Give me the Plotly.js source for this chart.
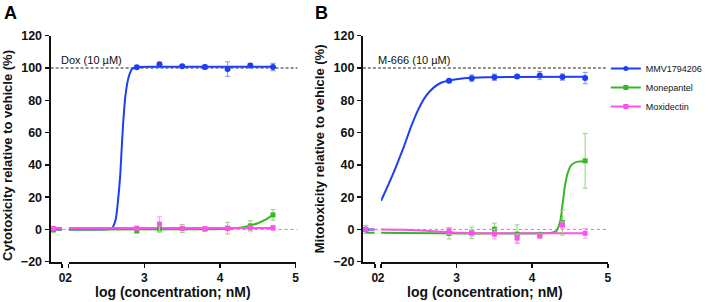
<!DOCTYPE html>
<html><head><meta charset="utf-8">
<script src="https://cdn.plot.ly/plotly-3.0.1.min.js"></script>
<style>html,body{margin:0;padding:0;background:#fff}#chart{width:708px;height:302px}</style>
</head><body><div id="chart"></div>
<script>
// ---------- data ----------
const seriesNames = ['MMV1794206', 'Monepantel', 'Moxidectin'];
const seriesColors = ['#1c3ff5', '#36b824', '#ff4fee'];
const errColors = ['#7d93ff', '#8fd677', '#ff9cf4'];
const seriesSymbols = ['circle', 'square', 'square'];

const vehicleLog = [-1];
const concLog = [2.9, 3.2, 3.5, 3.8, 4.1, 4.4, 4.7];
const xTickSeg1 = [0];
const xTickSeg2 = [2, 3, 4, 5];
const yTicks = [-20, 0, 20, 40, 60, 80, 100, 120];

// Panel A: cytotoxicity
const vehA = [0, 0, 0.5];
const vehAErr = [0.5, 2, 0.5];
const mmvA = [100.5, 102.3, 101.0, 100.6, 99.3, 101.6, 100.6];
const mmvAErr = [0.8, 1.0, 0.8, 1.3, 4.5, 1.2, 2.3];
const monA = [-1.0, 0.3, 0.6, 0.2, 0.8, 2.2, 9.0];
const monAErr = [1.0, 2.0, 2.5, 0.8, 3.6, 3.2, 3.3];
const moxA = [0.8, 3.3, 0.6, 0.4, 0.5, 1.0, 1.0];
const moxAErr = [1.0, 4.5, 1.0, 0.8, 1.0, 1.0, 1.5];
const baseA = [0, 0, 0.8];
const fitA_mmv_x = [2.0, 2.5, 2.57, 2.62, 2.65, 2.68, 2.70, 2.72, 2.75, 2.79, 2.84, 2.9, 3.2, 4.7];
const fitA_mmv_y = [0, 0.1, 0.6, 6, 17, 33, 50, 66, 83, 94, 99.5, 100.5, 100.7, 100.7];
const fitA_mon_x = [2.0, 3.8, 4.1, 4.3, 4.5, 4.6, 4.7];
const fitA_mon_y = [0, 0.1, 0.4, 1.3, 3.8, 6.0, 9.0];
const fitA_mox_x = [2.0, 4.7];
const fitA_mox_y = [0.8, 0.8];

// Panel B: mitotoxicity
const vehB = [0, 0, 0];
const vehBErr = [0.5, 2.5, 0.5];
const mmvB = [92.1, 93.7, 94.2, 94.8, 95.3, 94.4, 93.8];
const mmvBErr = [1.2, 2.0, 2.0, 1.2, 2.5, 2.0, 3.5];
const monB = [-2.5, -2.1, 0.2, -2.9, -3.2, 4.3, 42.5];
const monBErr = [3.4, 3.6, 3.7, 5.7, 1.5, 7.8, 17.0];
const moxB = [-0.9, -2.2, -2.9, -5.4, -4.0, 2.7, -2.4];
const moxBErr = [2.0, 2.0, 3.0, 2.5, 1.5, 2.0, 3.0];
const baseB = [0, -2, 0];
const fitB_mmv_x = [2.0, 2.1, 2.2, 2.3, 2.4, 2.5, 2.6, 2.7, 2.8, 2.9, 3.1, 3.4, 4.7];
const fitB_mmv_y = [17.7, 28, 39, 51, 64, 75, 83, 88, 91, 92.3, 93.7, 94.3, 94.5];
const fitB_mon_x = [2.0, 4.25, 4.32, 4.37, 4.40, 4.43, 4.47, 4.52, 4.6, 4.7];
const fitB_mon_y = [-2, -2, -1, 5, 15, 26, 35, 40, 42, 42.3];
const fitB_mox_x = [2.0, 2.3, 2.6, 2.8, 3.0, 3.3, 4.7];
const fitB_mox_y = [0, -0.2, -0.8, -1.5, -2.0, -2.3, -2.4];

// ---------- build ----------
const FONT = 'Arial, "Liberation Sans", sans-serif';
const W = 708, H = 302;
const px = v => v / W;
const py = v => 1 - v / H;

function buildPanel(xs1, xs2, ya, veh, vehErr, vals, errs, fitsX, fitsY, base) {
  const tr = [];
  for (let i = 0; i < 3; i++) {
    tr.push({x: [vehicleLog[0], xTickSeg1[0]], y: [base[i], base[i]], xaxis: xs1, yaxis: ya,
      mode: 'lines', line: {color: seriesColors[i], width: 2}, showlegend: false, hoverinfo: 'skip'});
    tr.push({x: fitsX[i], y: fitsY[i], xaxis: xs2, yaxis: ya, mode: 'lines',
      line: {color: seriesColors[i], width: 2, shape: 'spline', smoothing: 0.6}, showlegend: false, hoverinfo: 'skip'});
  }
  for (let i = 0; i < 3; i++) {
    const mk = {color: seriesColors[i], size: seriesSymbols[i] === 'circle' ? 6 : 5, symbol: seriesSymbols[i]};
    const eb = arr => ({type: 'data', array: arr, color: errColors[i], thickness: 1, width: 2.5});
    tr.push({x: vehicleLog, y: [veh[i]], error_y: eb([vehErr[i]]), xaxis: xs1, yaxis: ya,
      mode: 'markers', marker: mk, showlegend: false, cliponaxis: false});
    tr.push({x: concLog, y: vals[i], error_y: eb(errs[i]), xaxis: xs2, yaxis: ya,
      mode: 'markers', marker: mk, showlegend: false, cliponaxis: false});
  }
  return tr;
}

const traces = [].concat(
  buildPanel('x', 'x2', 'y', vehA, vehAErr, [mmvA, monA, moxA], [mmvAErr, monAErr, moxAErr],
    [fitA_mmv_x, fitA_mon_x, fitA_mox_x], [fitA_mmv_y, fitA_mon_y, fitA_mox_y], baseA),
  buildPanel('x3', 'x4', 'y2', vehB, vehBErr, [mmvB, monB, moxB], [mmvBErr, monBErr, moxBErr],
    [fitB_mmv_x, fitB_mon_x, fitB_mox_x], [fitB_mmv_y, fitB_mon_y, fitB_mox_y], baseB)
);
// legend entries
for (let i = 0; i < 3; i++) {
  traces.push({x: [null], y: [null], xaxis: 'x2', yaxis: 'y', mode: 'lines+markers', name: seriesNames[i],
    line: {color: seriesColors[i], width: 2},
    marker: {color: seriesColors[i], size: 5, symbol: seriesSymbols[i]}, showlegend: true});
}

const tickFont = {family: FONT, size: 12, color: '#111', weight: 'bold'};
function xAx(dom, range, tv, anchor) {
  return {domain: dom, range: range, tickvals: tv, ticktext: tv.map(String), anchor: anchor,
    showline: true, linecolor: '#111', linewidth: 2, ticks: 'outside', ticklen: 4, tickwidth: 1.5,
    tickcolor: '#111', showgrid: false, zeroline: false, tickfont: tickFont, fixedrange: true};
}
function yAx(anchor) {
  return {domain: [py(261.7), py(35.7)], range: [-20, 120], tickvals: yTicks, anchor: anchor,
    showline: true, linecolor: '#111', linewidth: 2, ticks: 'outside', ticklen: 4, tickwidth: 1.5,
    tickcolor: '#111', showgrid: false, zeroline: false, tickfont: Object.assign({}, tickFont, {size: 12.5}), fixedrange: true};
}

function refLines(x0, x1, yref) {
  return [
    {type: 'line', xref: 'paper', yref: yref, x0: px(x0), x1: px(x1), y0: 100, y1: 100,
      line: {color: '#222', width: 1, dash: '3px,2px'}, layer: 'below'},
    {type: 'line', xref: 'paper', yref: yref, x0: px(x0), x1: px(x1), y0: 0, y1: 0,
      line: {color: '#999', width: 1, dash: 'dot'}, layer: 'below'}
  ];
}

const ann = (text, x, y, opts) => Object.assign({text: text, x: x, y: y, xref: 'paper', yref: 'paper',
  showarrow: false, font: {family: FONT, size: 13, color: '#111', weight: 'bold'}}, opts || {});

const layout = {
  width: W, height: H, margin: {l: 0, r: 0, t: 0, b: 0},
  paper_bgcolor: '#fff', plot_bgcolor: 'rgba(0,0,0,0)',
  font: {family: FONT, color: '#111'},
  xaxis: xAx([px(51), px(62.7)], [-1.3, 0], xTickSeg1, 'y'),
  xaxis2: xAx([px(69.3), px(298.2)], [2, 5], xTickSeg2, 'y'),
  xaxis3: xAx([px(366), px(378)], [-1.3, 0], xTickSeg1, 'y2'),
  xaxis4: xAx([px(384.3), px(613)], [2, 5], xTickSeg2, 'y2'),
  yaxis: yAx('x'),
  yaxis2: yAx('x3'),
  showlegend: true,
  legend: {x: px(611), y: py(54), xanchor: 'left', yanchor: 'top', itemwidth: 30,
    font: {family: FONT, size: 9, color: '#111'}, bgcolor: 'rgba(0,0,0,0)', tracegroupgap: 0},
  shapes: [].concat(refLines(51, 300, 'y'), refLines(366, 613, 'y2')),
  annotations: [
    ann('A', px(2), py(1), {xanchor: 'left', yanchor: 'top', font: {family: FONT, size: 18, color: '#000', weight: 'bold'}}),
    ann('B', px(316), py(1), {xanchor: 'left', yanchor: 'top', font: {family: FONT, size: 18, color: '#000', weight: 'bold'}}),
    ann('Dox (10 µM)', px(59), 100, {yref: 'y', xanchor: 'left', yanchor: 'bottom', font: {family: FONT, size: 11, color: '#111'}}),
    ann('M-666 (10 µM)', px(379), 100, {yref: 'y2', xanchor: 'left', yanchor: 'bottom', font: {family: FONT, size: 11, color: '#111'}}),
    ann('Cytotoxicity relative to vehicle (%)', px(7), py(155), {textangle: -90, xanchor: 'center', yanchor: 'middle'}),
    ann('Mitotoxicity relative to vehicle (%)', px(322), py(149), {textangle: -90, xanchor: 'center', yanchor: 'middle'}),
    ann('log (concentration; nM)', px(174.5), py(302), {xanchor: 'center', yanchor: 'bottom', font: {family: FONT, size: 14, color: '#111', weight: 'bold'}}),
    ann('log (concentration; nM)', px(489.5), py(302), {xanchor: 'center', yanchor: 'bottom', font: {family: FONT, size: 14, color: '#111', weight: 'bold'}})
  ]
};

Plotly.newPlot('chart', traces, layout, {displayModeBar: false, staticPlot: true});
</script>
</body></html>
